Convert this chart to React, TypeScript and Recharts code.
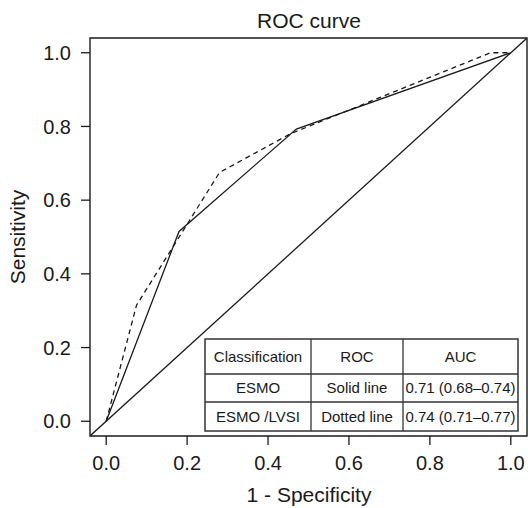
import { LineChart, Line, XAxis, YAxis, ReferenceArea } from 'recharts';

// ROC points
const esmoFpr = [0, 0.18, 0.47, 1];
const esmoTpr = [0, 0.515, 0.793, 1];
const lvsiFpr = [0, 0.075, 0.28, 0.455, 0.95, 1];
const lvsiTpr = [0, 0.315, 0.675, 0.78, 1, 1];
const chanceLine = [-0.04, 1.04];

const axisTicks = [0, 0.2, 0.4, 0.6, 0.8, 1];
const domain: [number, number] = [-0.04, 1.04];

const tableHeader = ['Classification', 'ROC', 'AUC'];
const tableRows = [
  ['ESMO', 'Solid line', '0.71 (0.68\u20130.74)'],
  ['ESMO /LVSI', 'Dotted line', '0.74 (0.71\u20130.77)'],
];

const zip = (xs: number[], ys: number[]) => xs.map((x, i) => ({ x, y: ys[i] }));

const esmoData = zip(esmoFpr, esmoTpr);
const lvsiData = zip(lvsiFpr, lvsiTpr);
const chanceData = zip(chanceLine, chanceLine);

const FONT = '"Liberation Sans", Arial, sans-serif';
const INK = '#1a1a1a';

// table layout
const colEdges = [205, 311, 403, 518];
const rowEdges = [339, 374, 402, 431];

const AucTable = () => {
  const rows = [tableHeader, ...tableRows];
  return (
    <svg width={528} height={508} style={{ position: 'absolute', left: 0, top: 0, pointerEvents: 'none' }}>
      <text x={309} y={28} textAnchor="middle" fontSize={21} fontFamily={FONT} fill={INK}>ROC curve</text>
      <text x={309} y={502} textAnchor="middle" fontSize={21} fontFamily={FONT} fill={INK}>1 - Specificity</text>
      <text x={25} y={237} textAnchor="middle" fontSize={21} fontFamily={FONT} fill={INK} transform="rotate(-90 25 237)">Sensitivity</text>

      <rect x={colEdges[0]} y={rowEdges[0]} width={colEdges[3] - colEdges[0]} height={rowEdges[3] - rowEdges[0]} fill="#fff" stroke="#333" strokeWidth={1.5} />
      {rowEdges.slice(1, 3).map((y) => (
        <line key={`r${y}`} x1={colEdges[0]} x2={colEdges[3]} y1={y} y2={y} stroke="#333" strokeWidth={1.3} />
      ))}
      {colEdges.slice(1, 3).map((x) => (
        <line key={`c${x}`} x1={x} x2={x} y1={rowEdges[0]} y2={rowEdges[3]} stroke="#333" strokeWidth={1.3} />
      ))}
      {rows.map((row, r) =>
        row.map((cell, c) => (
          <text
            key={`${r}-${c}`}
            x={(colEdges[c] + colEdges[c + 1]) / 2}
            y={(rowEdges[r] + rowEdges[r + 1]) / 2}
            dy="0.35em"
            textAnchor="middle"
            fontSize={15}
            fontFamily={FONT}
            fill={INK}
          >
            {cell}
          </text>
        ))
      )}
    </svg>
  );
};

export default function App() {
  const tickStyle = { fill: INK, fontSize: 20, fontFamily: FONT };
  return (
    <div style={{ position: 'absolute', left: 0, top: 0, width: 528, height: 508, background: '#fff' }}>
      <LineChart width={528} height={508} margin={{ top: 38, right: 1, bottom: 32, left: 30 }}>
        <XAxis
          type="number"
          dataKey="x"
          domain={domain}
          ticks={axisTicks}
          tickFormatter={(v: number) => v.toFixed(1)}
          allowDataOverflow
          axisLine={false}
          tickLine={{ stroke: INK, strokeWidth: 1.3 }}
          tickSize={9}
          tickMargin={11}
          height={40}
          tick={tickStyle}
        />
        <YAxis
          type="number"
          dataKey="y"
          domain={domain}
          ticks={axisTicks}
          tickFormatter={(v: number) => v.toFixed(1)}
          allowDataOverflow
          axisLine={false}
          tickLine={{ stroke: INK, strokeWidth: 1.3 }}
          tickSize={9}
          tickMargin={10}
          width={60}
          tick={tickStyle}
        />
        <ReferenceArea x1={-0.04} x2={1.04} y1={-0.04} y2={1.04} fill="none" fillOpacity={0} stroke={INK} strokeWidth={1.4} ifOverflow="visible" />
        <Line data={chanceData} dataKey="y" type="linear" stroke={INK} strokeWidth={1.3} dot={false} isAnimationActive={false} />
        <Line data={esmoData} dataKey="y" type="linear" stroke={INK} strokeWidth={1.3} dot={false} isAnimationActive={false} />
        <Line data={lvsiData} dataKey="y" type="linear" stroke={INK} strokeWidth={1.3} strokeDasharray="5 4" dot={false} isAnimationActive={false} />
      </LineChart>
      <AucTable />
    </div>
  );
}
